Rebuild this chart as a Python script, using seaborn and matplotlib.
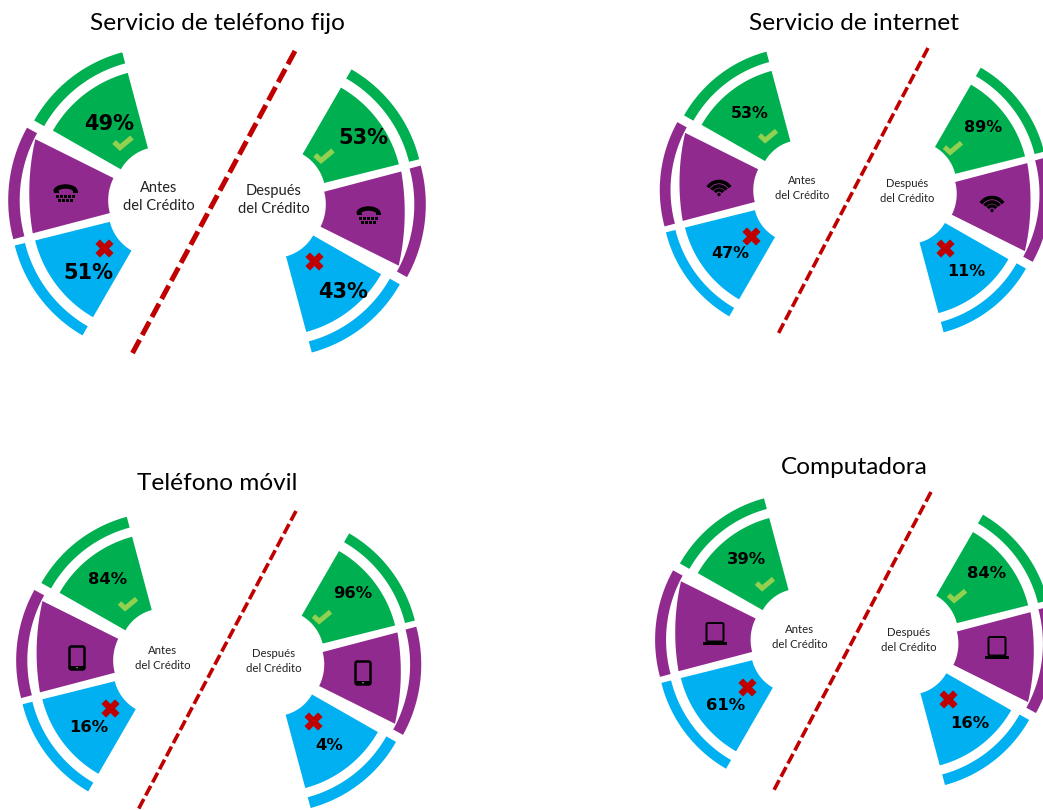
import numpy as np
import pandas as pd
import matplotlib
matplotlib.use("Agg")
import matplotlib.pyplot as plt
from matplotlib.patches import Polygon, Rectangle, FancyBboxPatch, Circle, Arc
import seaborn as sns

sns.set_theme(style="white")
plt.rcParams["font.family"] = ["Lato", "DejaVu Sans"]

# Survey results
titles = ["Servicio de teléfono fijo", "Servicio de internet", "Teléfono móvil", "Computadora"]
before_yes = [49, 53, 84, 39]
before_no = [51, 47, 16, 61]
after_yes = [53, 89, 96, 84]
after_no = [43, 11, 4, 16]
icons = ["phone", "wifi", "tablet", "laptop"]

GREEN, PURPLE, BLUE = "#00B050", "#912A8E", "#00B0F0"
CHECK, RED = "#92D050", "#C00000"

W, H = 1043, 810
fig = plt.figure(figsize=(W / 100, H / 100), dpi=100, facecolor="white")
ax = fig.add_axes([0, 0, 1, 1])
ax.set_xlim(0, W)
ax.set_ylim(H, 0)
ax.axis("off")

# Layout of each panel, in pixels: symmetry centre, scale, text sizes and anchors
layout = [
    dict(c=(217, 202.4), s=1.0, title=(217, 23), pct=15, lab=10.5, lw=3.6,
         div=((295, 51), (132, 354)),
         ante=(159, 197), desp=(274, 200),
         l_yes=(109, 124), l_no=(88, 273), r_yes=(363, 138), r_no=(343, 292),
         l_chk=(123, 143), r_chk=(324, 156), l_x=(104, 248), r_x=(314, 261),
         l_ic=(65.5, 193), r_ic=(368.5, 215)),
    dict(c=(855, 192), s=0.935, title=(854, 23), pct=11.4, lab=8.0, lw=2.6,
         div=((928, 48), (777, 336)),
         ante=(802, 188), desp=(907, 191),
         l_yes=(750, 113), l_no=(730, 254), r_yes=(983, 127), r_no=(966, 272),
         l_chk=(768, 136), r_chk=(953, 148), l_x=(751, 236), r_x=(945, 248),
         l_ic=(719, 187), r_ic=(992, 203)),
    dict(c=(218.7, 662.4), s=0.97, title=(217, 484), pct=11.8, lab=8.2, lw=2.6,
         div=((296, 511), (138, 810)),
         ante=(163, 658), desp=(274, 661),
         l_yes=(108, 579), l_no=(89, 727), r_yes=(353, 594), r_no=(329, 746),
         l_chk=(128, 604), r_chk=(322, 617), l_x=(110, 708), r_x=(313, 721),
         l_ic=(77, 658), r_ic=(363, 673)),
    dict(c=(854.5, 641.7), s=0.955, title=(854, 467), pct=11.8, lab=8.2, lw=2.6,
         div=((931, 492), (774, 790)),
         ante=(800, 637), desp=(909, 640),
         l_yes=(746, 560), l_no=(726, 706), r_yes=(987, 574), r_no=(970, 724),
         l_chk=(765, 584), r_chk=(957, 596), l_x=(747, 687), r_x=(948, 699),
         l_ic=(715, 634), r_ic=(997, 648)),
]

# Fan template, left-hand side: apex offset from the panel centre (y up), start and
# end angle, inner radius, corner radii, arc radius, then the thin outer band.
segments = [
    dict(apex=(-57.5, 11.0), a=(105.0, 150.3), rin=44.5, r=(122.7, 122.7), R=122.7, band=(132.5, 144), ba=(105, 150.5)),
    dict(apex=(-58.8, 2.0), a=(153.5, 194.7), rin=50.0, r=(137.3, 129.7), R=240.0, band=(138.5, 150), ba=(151, 195)),
    dict(apex=(-62.5, -8.3), a=(194.0, 240.0), rin=46.0, r=(123.0, 123.0), R=123.0, band=(133.5, 144), ba=(194, 240)),
]


def sector(apex, a, rin, r, R, n=60):
    """Outline of a ring sector whose outer arc may be flatter than its inner arc."""
    t0, t1 = np.radians(a)
    apex = np.asarray(apex, float)
    p0 = apex + r[0] * np.array([np.cos(t0), np.sin(t0)])
    p1 = apex + r[1] * np.array([np.cos(t1), np.sin(t1)])
    mid = (p0 + p1) / 2
    chord = p1 - p0
    half = np.hypot(*chord) / 2
    outward = np.array([chord[1], -chord[0]]) / (2 * half)
    if np.dot(outward, mid - apex) < 0:
        outward = -outward
    centre = mid - outward * np.sqrt(max(R ** 2 - half ** 2, 0))
    b0 = np.arctan2(*(p0 - centre)[::-1]) % (2 * np.pi)
    b1 = np.arctan2(*(p1 - centre)[::-1]) % (2 * np.pi)
    if b1 < b0:
        b1 += 2 * np.pi
    tt = np.linspace(b0, b1, n)
    outer = centre + R * np.column_stack([np.cos(tt), np.sin(tt)])
    ti = np.linspace(t1, t0, n)
    inner = apex + rin * np.column_stack([np.cos(ti), np.sin(ti)])
    return np.vstack([outer, inner])


def draw_fan(cx, cy, scale, flip, colours):
    sign = -1 if flip else 1
    for seg, col in zip(segments, colours):
        body = sector(seg["apex"], seg["a"], seg["rin"], seg["r"], seg["R"])
        band = sector(seg["apex"], seg["ba"], seg["band"][0], (seg["band"][1],) * 2, seg["band"][1])
        for pts in (body, band):
            xy = np.column_stack([cx + sign * scale * pts[:, 0], cy - sign * scale * pts[:, 1]])
            ax.add_patch(Polygon(xy, closed=True, fc=col, ec="none", zorder=2))


def draw_phone(x, y, k=1.0):
    # The y axis is inverted, so this half ellipse arches upwards.
    tt = np.linspace(np.pi, 2 * np.pi, 30)
    ax.plot(x + 10 * k * np.cos(tt), y - 1.5 * k + 5 * k * np.sin(tt), color="black", lw=3.2 * k,
            solid_capstyle="butt", zorder=4)
    for side in (-1, 1):
        ax.add_patch(Rectangle((x + side * 9.5 * k - 2.5 * k, y - 2.3 * k), 5 * k, 2.6 * k,
                               fc="black", ec="none", zorder=4))
    for row, count in enumerate([5, 4]):
        for i in range(count):
            px = x + (i - (count - 1) / 2) * 4.2 * k
            ax.add_patch(Rectangle((px - 1.5 * k, y + (1.5 + row * 4.2) * k), 3.0 * k, 3.0 * k,
                                   fc="black", ec="none", zorder=4))


def draw_wifi(x, y, k=1.0):
    for d, w in zip([27, 18, 10], [2.6, 2.5, 2.3]):
        ax.add_patch(Arc((x, y + 8 * k), d * k, d * k, theta1=215, theta2=325, lw=w * k, color="black", zorder=4))
    ax.add_patch(Circle((x, y + 7.5 * k), 1.7 * k, fc="black", ec="none", zorder=4))


def draw_tablet(x, y, k=1.0):
    ax.add_patch(FancyBboxPatch((x - 7.5 * k, y - 11.5 * k), 15 * k, 23 * k,
                                boxstyle=f"round,pad=0,rounding_size={2 * k}",
                                fc="none", ec="black", lw=1.8 * k, zorder=4))
    ax.add_patch(Rectangle((x - 7.5 * k, y + 8 * k), 15 * k, 3.5 * k, fc="black", ec="none", zorder=4))
    ax.add_patch(Circle((x, y + 9.7 * k), 0.7 * k, fc="#BBBBBB", ec="none", zorder=5))


def draw_laptop(x, y, k=1.0):
    ax.add_patch(FancyBboxPatch((x - 8.5 * k, y - 11 * k), 17 * k, 18.5 * k,
                                boxstyle=f"round,pad=0,rounding_size={1.5 * k}",
                                fc="none", ec="black", lw=1.4 * k, zorder=4))
    ax.add_patch(Rectangle((x - 12 * k, y + 8 * k), 24 * k, 2.8 * k, fc="black", ec="none", zorder=4))


DRAW_ICON = dict(phone=draw_phone, wifi=draw_wifi, tablet=draw_tablet, laptop=draw_laptop)


def draw_check(x, y, k=1.0):
    ax.plot([x - 9 * k, x - 3 * k, x + 9 * k], [y - 1 * k, y + 4.5 * k, y - 5.5 * k],
            color=CHECK, lw=3.8 * k, solid_joinstyle="miter", solid_capstyle="butt", zorder=4)


crosses = []
for i, lay in enumerate(layout):
    cx, cy = lay["c"]
    s = lay["s"]
    ax.text(*lay["title"], titles[i], ha="center", va="center", fontsize=17.6, color="black", zorder=6)

    (x0, y0), (x1, y1) = lay["div"]
    sns.lineplot(x=[x0, x1], y=[y0, y1], ax=ax, color=RED, lw=lay["lw"], estimator=None, sort=False,
                 linestyle=(0, (3.0, 1.1)), zorder=3)

    draw_fan(cx, cy, s, False, [GREEN, PURPLE, BLUE])
    draw_fan(cx, cy, s, True, [BLUE, PURPLE, GREEN])

    for key, word in (("ante", "Antes"), ("desp", "Después")):
        px, py = lay[key]
        gap = lay["lab"] * 0.9
        ax.text(px, py - gap, word, ha="center", va="center", fontsize=lay["lab"], color="#222222", zorder=6)
        ax.text(px, py + gap, "del Crédito", ha="center", va="center", fontsize=lay["lab"], color="#222222", zorder=6)

    for pos, val in ((lay["l_yes"], before_yes[i]), (lay["l_no"], before_no[i]),
                     (lay["r_yes"], after_yes[i]), (lay["r_no"], after_no[i])):
        ax.text(*pos, f"{val}%", ha="center", va="center", fontsize=lay["pct"], fontweight="bold",
                family=["DejaVu Sans"], color="black", zorder=6)

    k = 1.0 if i == 0 else 0.95
    draw_check(*lay["l_chk"], k)
    draw_check(*lay["r_chk"], k)
    crosses += [lay["l_x"], lay["r_x"]]

    DRAW_ICON[icons[i]](*lay["l_ic"], 1.0)
    DRAW_ICON[icons[i]](*lay["r_ic"], 1.0)

marks = pd.DataFrame(crosses, columns=["x", "y"])
sns.scatterplot(data=marks, x="x", y="y", ax=ax, marker="X", s=170, color=RED, linewidth=0, zorder=5, legend=False)

ax.set_xlim(0, W)
ax.set_ylim(H, 0)
ax.axis("off")
fig.savefig("out.png", dpi=100, facecolor="white")
